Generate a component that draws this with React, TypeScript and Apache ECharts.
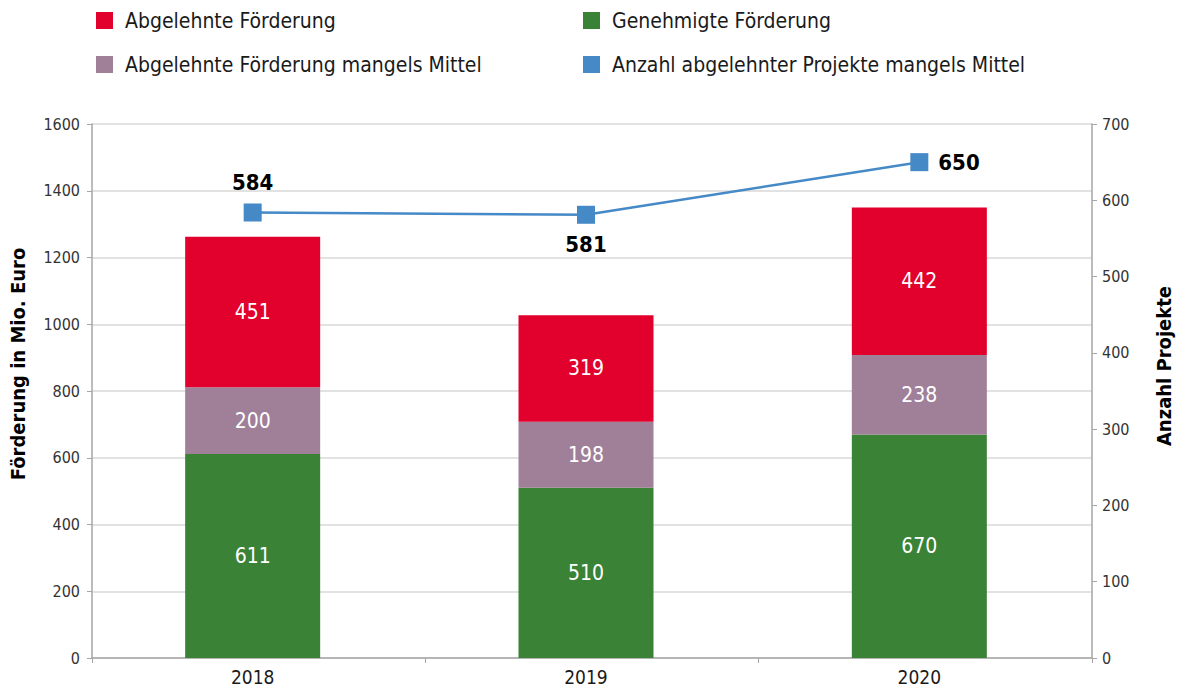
import React, { useEffect, useRef } from "react";
import * as echarts from "echarts";

const years = ["2018", "2019", "2020"];
const genehmigt = [611, 510, 670];
const mangelsMittel = [200, 198, 238];
const abgelehnt = [451, 319, 442];
const anzahlProjekte = [584, 581, 650];
const lineLabelPositions = ["top", "bottom", "right"];

const FONT = "'Liberation Sans Narrow', 'DejaVu Sans Condensed', 'Liberation Sans', sans-serif";

export default function App() {
  const ref = useRef<HTMLDivElement>(null);
  useEffect(() => {
    if (!ref.current) return;
    const chart = echarts.init(ref.current, undefined, { renderer: "svg" });
    const legendText = { fontFamily: FONT, fontSize: 21, color: "#1a1a1a", padding: [0, 0, 0, 7], lineHeight: 20 };
    const barLabel = { show: true, position: "inside", color: "#fff", fontFamily: FONT, fontSize: 21 };
    const nameStyle = { fontFamily: FONT, fontSize: 20, fontWeight: "bold", fill: "#000" };
    const axisLineStyle = { color: "#a6a6a6", width: 1.5 };
    chart.setOption({
      animation: false,
      textStyle: { fontFamily: FONT },
      legend: [
        {
          left: 96, top: 10, padding: 0, orient: "vertical", icon: "rect", itemWidth: 17, itemHeight: 17, itemGap: 23,
          textStyle: legendText,
          data: ["Abgelehnte Förderung", "Abgelehnte Förderung mangels Mittel"],
        },
        {
          left: 583, top: 10, padding: 0, orient: "vertical", icon: "rect", itemWidth: 17, itemHeight: 17, itemGap: 23,
          textStyle: legendText,
          data: ["Genehmigte Förderung", "Anzahl abgelehnter Projekte mangels Mittel"],
        },
      ],
      graphic: [
        {
          type: "text", x: 18, y: 364, rotation: Math.PI / 2,
          style: { ...nameStyle, text: "Förderung in Mio. Euro", align: "center", verticalAlign: "middle" },
        },
        {
          type: "text", x: 1164, y: 366, rotation: Math.PI / 2,
          style: { ...nameStyle, text: "Anzahl Projekte", align: "center", verticalAlign: "middle" },
        },
      ],
      grid: [
        { left: 92, right: 92, top: 124, bottom: 37, outerBoundsMode: "none", containLabel: false },
        { left: 86, right: 98, top: 124, bottom: 37, outerBoundsMode: "none", containLabel: false },
      ],
      xAxis: [
        {
          type: "category", gridIndex: 0, data: years,
          axisLine: { lineStyle: axisLineStyle },
          axisTick: { show: true, length: 5, lineStyle: { color: "#a6a6a6" } },
          axisLabel: { show: false },
        },
        {
          type: "category", gridIndex: 1, data: years,
          axisLine: { show: false },
          axisTick: { show: false },
          axisLabel: { color: "#1a1a1a", fontSize: 19, fontFamily: FONT, margin: 9 },
        },
      ],
      yAxis: [
        {
          type: "value", gridIndex: 0, min: 0, max: 1600, interval: 200, position: "left",
          axisLine: { show: true, lineStyle: axisLineStyle },
          axisTick: { show: true, length: 5, lineStyle: { color: "#a6a6a6" } },
          axisLabel: { color: "#333", fontSize: 16, fontFamily: FONT, margin: 12, formatter: (v: number) => String(v) },
          splitLine: { lineStyle: { color: "#d9d9d9", width: 1.5 } },
        },
        {
          type: "value", gridIndex: 0, min: 0, max: 700, interval: 100, position: "right",
          axisLine: { show: true, lineStyle: axisLineStyle },
          axisTick: { show: true, length: 5, lineStyle: { color: "#a6a6a6" } },
          axisLabel: { color: "#333", fontSize: 16, fontFamily: FONT, margin: 10, formatter: (v: number) => String(v) },
          splitLine: { show: false },
        },
        {
          type: "value", gridIndex: 1, min: 0, max: 1600, interval: 200, position: "left", show: false,
          splitLine: { show: false },
        },
        {
          type: "value", gridIndex: 1, min: 0, max: 700, interval: 100, position: "right", show: false,
          splitLine: { show: false },
        },
      ],
      series: [
        {
          name: "Genehmigte Förderung", type: "bar", stack: "f", barWidth: "40.5%",
          xAxisIndex: 1, yAxisIndex: 2,
          itemStyle: { color: "#3a8236" }, label: barLabel, data: genehmigt,
        },
        {
          name: "Abgelehnte Förderung mangels Mittel", type: "bar", stack: "f",
          xAxisIndex: 1, yAxisIndex: 2,
          itemStyle: { color: "#a07f99" }, label: barLabel, data: mangelsMittel,
        },
        {
          name: "Abgelehnte Förderung", type: "bar", stack: "f",
          xAxisIndex: 1, yAxisIndex: 2,
          itemStyle: { color: "#e2002d" }, label: barLabel, data: abgelehnt,
        },
        {
          name: "Anzahl abgelehnter Projekte mangels Mittel", type: "line",
          xAxisIndex: 1, yAxisIndex: 3,
          symbol: "rect", symbolSize: 18,
          lineStyle: { color: "#4589c6", width: 2.5 },
          itemStyle: { color: "#4589c6" },
          label: { show: true, fontFamily: FONT, fontSize: 22, fontWeight: "bold", color: "#000", distance: 10 },
          data: anzahlProjekte.map((v, i) => ({ value: v, label: { position: lineLabelPositions[i] } })),
        },
      ],
    });
    return () => chart.dispose();
  }, []);
  return <div ref={ref} style={{ width: 1184, height: 695, position: "absolute", left: 0, top: 0 }} />;
}
